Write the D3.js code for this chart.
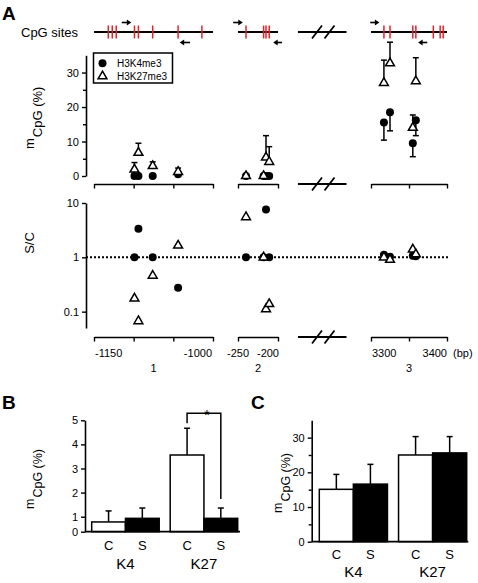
<!DOCTYPE html>
<html><head><meta charset="utf-8">
<script src="https://cdn.jsdelivr.net/npm/d3@7"></script>
<style>
body{margin:0;background:#fff;}
svg{display:block;}
</style></head><body>
<svg id="chart" width="478" height="583"></svg>
<script>
// ---------------- DATA ----------------
const regions = ["1", "2", "3"];
const regionDomains = [[-1150, -1000], [-250, -200], [3300, 3400]];
const regionTicks = [[-1150, -1100, -1050, -1000], [-250, -200], [3300, 3350, 3400]];
const regionTickLabels = [["-1150", "-1000"], ["-250", "-200"], ["3300", "3400"]];
const cpgSites = [[-1132, -1127, -1122, -1099, -1094, -1076, -1044, -1014], [-240, -218, -215, -211], [3317, 3325, 3355, 3359, 3382, 3391, 3395]];
const primerFwd = [[-1115, -1103], [-256, -244], [3299, 3311]];
const primerRev = [[-1029, -1042], [-195, -206], [3374, 3362]];
const siteBp = [[-1099, -1094, -1076, -1044], [-240, -218, -215, -211], [3317, 3325, 3355, 3359]];
const k4Mean = [[0, 0, 0, 0.5], [0, 0, 0, 0], [15.5, 18.5, 9.5, 16.2]];
const k4Err = [[0, 0, 0, 0], [0, 0, 0, 0], [5.1, 5.4, 3.9, 4.5]];
const k27Mean = [[1.9, 6.75, 2.9, 1.2], [0, 0, 5.4, 4.1], [27.0, 32.7, 14.0, 27.5]];
const k27Err = [[2.0, 2.75, 1.2, 1.1], [0, 0, 6.3, 4.4], [6.6, 6.1, 3.7, 6.8]];
const k4Ratio = [[1, 3.37, 1, 0.275], [1, 1, 7.6, 1], [1.11, 1.03, 1.07, 1.05]];
const k27Ratio = [[0.175, 0.067, 0.46, 1.65], [5.5, 1, 0.111, 0.138], [1.0, 0.9, 1.4, 1.14]];
const upperTicks = [0, 5, 10, 15, 20, 25, 30];
const ratioTicks = [0.1, 1, 10];
const seriesNames = ["H3K4me3", "H3K27me3"];

const marks = ["K4", "K27"];
const conditions = ["C", "S"];
const bMean = [[0.65, 0.89], [3.56, 0.89]];
const bErr = [[0.59, 0.47], [1.11, 0.47]];
const bTicks = [0, 1, 2, 3, 4, 5];
const cMean = [[15.1, 16.6], [25.0, 25.6]];
const cErr = [[4.3, 5.7], [5.3, 4.7]];
const cTicks = [0, 5, 10, 15, 20, 25, 30];

// ---------------- DRAW ----------------
const FONT = '"Liberation Sans", Arial, Helvetica, sans-serif';
const RED = "#e3232c";
const svg = d3.select("#chart").style("font-family", FONT);

function styleAxis(g, fs) {
  g.attr("font-family", FONT).attr("font-size", fs || 11);
  g.selectAll("path.domain").attr("stroke", "#000").attr("stroke-width", 1.6);
  g.selectAll(".tick line").attr("stroke", "#000").attr("stroke-width", 1.4);
  g.selectAll(".tick text").attr("fill", "#000");
}

// panel letters
svg.append("text").attr("x", 2).attr("y", 20).attr("font-size", 19).attr("font-weight", "bold").attr("fill", "#000").text("A");
svg.append("text").attr("x", 2).attr("y", 409).attr("font-size", 19).attr("font-weight", "bold").attr("fill", "#000").text("B");
svg.append("text").attr("x", 251).attr("y", 409).attr("font-size", 19).attr("font-weight", "bold").attr("fill", "#000").text("C");

// ---- Panel A scales ----
const segRanges = [[94, 213], [238, 278], [371, 447]];
const xs = regionDomains.map((d, i) => d3.scaleLinear().domain(d).range(segRanges[i]));
const yUp = d3.scaleLinear().domain([0, 35]).range([176, 55.3]);
const yLo = d3.scaleLog().domain([0.05, 10]).range([328, 203]);
const axisX = 86, geneY = 32, upAxisY = 184, loAxisY = 337;

// CpG sites label and gene lines
svg.append("text").attr("x", 21).attr("y", 36.5).attr("font-size", 13).attr("fill", "#000").text("CpG sites");

function arrow(x1, x2, y) {
  const dir = Math.sign(x2 - x1);
  svg.append("line").attr("x1", x1).attr("x2", x2 - dir * 3).attr("y1", y).attr("y2", y)
    .attr("stroke", "#000").attr("stroke-width", 1.6);
  svg.append("path").attr("d", `M${x2},${y} L${x2 - dir * 4.5},${y - 3} L${x2 - dir * 4.5},${y + 3} Z`).attr("fill", "#000");
}

regionDomains.forEach((dom, i) => {
  const x = xs[i];
  svg.append("line").attr("x1", x(dom[0])).attr("x2", x(dom[1])).attr("y1", geneY).attr("y2", geneY)
    .attr("stroke", "#000").attr("stroke-width", 1.8);
  svg.selectAll(null).data(cpgSites[i]).enter().append("line")
    .attr("x1", d => x(d)).attr("x2", d => x(d)).attr("y1", geneY - 6.5).attr("y2", geneY + 6.5)
    .attr("stroke", RED).attr("stroke-width", 1.5);
  arrow(x(primerFwd[i][0]), x(primerFwd[i][1]), geneY - 9.5);
  arrow(x(primerRev[i][0]), x(primerRev[i][1]), geneY + 10.5);
});

// break symbols
function breakMark(y) {
  svg.append("line").attr("x1", 298).attr("x2", 346.5).attr("y1", y).attr("y2", y).attr("stroke", "#000").attr("stroke-width", 1.8);
  [317, 329.5].forEach(cx => {
    svg.append("line").attr("x1", cx - 5).attr("x2", cx + 5).attr("y1", y + 6.5).attr("y2", y - 6.5)
      .attr("stroke", "#000").attr("stroke-width", 1.8);
  });
}
breakMark(geneY); breakMark(upAxisY); breakMark(loAxisY);

// upper y axis
const gUY = svg.append("g").attr("transform", `translate(${axisX},0)`)
  .call(d3.axisLeft(yUp).tickValues(upperTicks).tickSize(4).tickSizeOuter(0).tickPadding(3)
    .tickFormat(d => d % 10 === 0 ? d : ""));
styleAxis(gUY, 11);
gUY.selectAll(".tick").filter(d => d % 10 !== 0).select("line").attr("x2", -3);

// lower y axis (log)
const gLY = svg.append("g").attr("transform", `translate(${axisX},0)`)
  .call(d3.axisLeft(yLo).tickValues(ratioTicks).tickSize(4).tickSizeOuter(0).tickPadding(3)
    .tickFormat(d => d === 0.1 ? "0.1" : String(d)));
styleAxis(gLY, 11);

// x axes
const labelAnchors = [["start", "end"], ["middle", "end"], ["start", "end"]];
const labelDx = [[1, -1], [0, 1], [1, 0]];
regionDomains.forEach((dom, i) => {
  [upAxisY, loAxisY].forEach(yy => {
    const g = svg.append("g").attr("transform", `translate(0,${yy})`)
      .call(d3.axisBottom(xs[i]).tickValues(regionTicks[i]).tickSize(4.5).tickSizeOuter(0).tickFormat(""));
    styleAxis(g, 11);
  });
  regionTickLabels[i].forEach((lab, k) => {
    svg.append("text").attr("x", xs[i](dom[k]) + labelDx[i][k]).attr("y", 356.5)
      .attr("text-anchor", labelAnchors[i][k]).attr("font-size", 11).attr("fill", "#000").text(lab);
  });
  svg.append("text").attr("x", (xs[i](dom[0]) + xs[i](dom[1])) / 2).attr("y", 371.5)
    .attr("text-anchor", "middle").attr("font-size", 11).attr("fill", "#000").text(regions[i]);
});
svg.append("text").attr("x", 453).attr("y", 356.5).attr("font-size", 11).attr("fill", "#000").text("(bp)");

// y labels
function mcpgLabel(x, yStart, fs) {
  const t = svg.append("text").attr("transform", `translate(${x},${yStart}) rotate(-90)`).attr("font-size", fs).attr("fill", "#000");
  t.append("tspan").text("m");
  t.append("tspan").attr("dy", fs * 0.62).attr("dx", 1).text("CpG (%)");
}
mcpgLabel(34, 149, 13);
mcpgLabel(34, 509, 12.5);
mcpgLabel(282, 513, 12.5);
svg.append("text").attr("transform", "translate(34,243) rotate(-90)").attr("text-anchor", "middle")
  .attr("font-size", 13).attr("fill", "#000").text("S/C");

// dotted reference line
svg.append("line").attr("x1", axisX).attr("x2", 450).attr("y1", yLo(1)).attr("y2", yLo(1))
  .attr("stroke", "#000").attr("stroke-width", 2).attr("stroke-dasharray", "2,2");

// upper points
const tri = d3.symbol().type(d3.symbolTriangle).size(34);
const cap = 3;
function errBar(x, y0, y1) {
  svg.append("line").attr("x1", x).attr("x2", x).attr("y1", y0).attr("y2", y1).attr("stroke", "#000").attr("stroke-width", 1.5);
  svg.append("line").attr("x1", x - cap).attr("x2", x + cap).attr("y1", y1).attr("y2", y1).attr("stroke", "#000").attr("stroke-width", 1.5);
}
siteBp.forEach((sites, i) => {
  sites.forEach((bp, j) => {
    const x = xs[i](bp);
    if (k4Err[i][j] > 0) errBar(x, yUp(k4Mean[i][j]), yUp(k4Mean[i][j] - k4Err[i][j]));
    if (k27Err[i][j] > 0) errBar(x, yUp(k27Mean[i][j]), yUp(k27Mean[i][j] + k27Err[i][j]));
  });
});
siteBp.forEach((sites, i) => {
  sites.forEach((bp, j) => {
    const x = xs[i](bp);
    svg.append("circle").attr("cx", x).attr("cy", yUp(k4Mean[i][j])).attr("r", 4).attr("fill", "#000");
    svg.append("circle").attr("cx", x).attr("cy", yLo(k4Ratio[i][j])).attr("r", 4).attr("fill", "#000");
  });
});
siteBp.forEach((sites, i) => {
  sites.forEach((bp, j) => {
    const x = xs[i](bp);
    svg.append("path").attr("d", tri).attr("transform", `translate(${x},${yUp(k27Mean[i][j])})`)
      .attr("fill", "#fff").attr("stroke", "#000").attr("stroke-width", 1.5);
    svg.append("path").attr("d", tri).attr("transform", `translate(${x},${yLo(k27Ratio[i][j])})`)
      .attr("fill", "#fff").attr("stroke", "#000").attr("stroke-width", 1.5);
  });
});

// legend
svg.append("rect").attr("x", 93.5).attr("y", 53).attr("width", 79).attr("height", 30)
  .attr("fill", "#fff").attr("stroke", "#000").attr("stroke-width", 1.5);
svg.append("circle").attr("cx", 102.5).attr("cy", 63.3).attr("r", 4).attr("fill", "#000");
svg.append("path").attr("d", tri).attr("transform", "translate(102.5,76.3)")
  .attr("fill", "#fff").attr("stroke", "#000").attr("stroke-width", 1.5);
seriesNames.forEach((n, k) => {
  svg.append("text").attr("x", 117).attr("y", 67 + k * 13).attr("font-size", 10).attr("fill", "#000").text(n);
});

// ---- bar panels ----
function barPanel(opts) {
  const { axisXpos, y, xRange, baseY, xEnd, means, errs, ticks, tickFmt, labY, grpY } = opts;
  const xG = d3.scaleBand().domain(marks).range(xRange).paddingInner(0.14);
  const xS = d3.scaleBand().domain(conditions).range([0, xG.bandwidth()]);
  const gy = svg.append("g").attr("transform", `translate(${axisXpos},0)`)
    .call(d3.axisLeft(y).tickValues(ticks).tickSize(4).tickSizeOuter(0).tickPadding(3).tickFormat(tickFmt));
  styleAxis(gy, 11);
  gy.selectAll(".tick").filter(d => tickFmt(d) === "").select("line").attr("x2", -3);
  const centers = [];
  marks.forEach((m, i) => {
    centers.push([]);
    conditions.forEach((c, k) => {
      const x0 = xG(m) + xS(c), w = xS.bandwidth();
      const cx = x0 + w / 2;
      centers[i].push(cx);
      errBar(cx, y(means[i][k]), y(means[i][k] + errs[i][k]));
      svg.append("rect").attr("x", x0).attr("y", y(means[i][k])).attr("width", w)
        .attr("height", baseY - y(means[i][k]))
        .attr("fill", k === 0 ? "#fff" : "#000").attr("stroke", "#000").attr("stroke-width", 1.5);
      svg.append("text").attr("x", cx).attr("y", labY).attr("text-anchor", "middle").attr("font-size", 13).attr("fill", "#000").text(c);
    });
    svg.append("text").attr("x", xG(m) + xG.bandwidth() / 2).attr("y", grpY).attr("text-anchor", "middle")
      .attr("font-size", 15).attr("fill", "#000").text(m);
  });
  svg.append("line").attr("x1", axisXpos).attr("x2", xEnd).attr("y1", baseY).attr("y2", baseY)
    .attr("stroke", "#000").attr("stroke-width", 1.8);
  return centers;
}

const yB = d3.scaleLinear().domain([0, 1, 5]).range([531.7, 516.7, 420.3]);
const centersB = barPanel({
  axisXpos: 85, y: yB, xRange: [91.7, 237.7], baseY: 531.7, xEnd: 240,
  means: bMean, errs: bErr, ticks: bTicks, tickFmt: d => String(d), labY: 550, grpY: 569
});
const yC = d3.scaleLinear().domain([0, 35]).range([541.7, 420.3]);
barPanel({
  axisXpos: 311.7, y: yC, xRange: [319.3, 466.7], baseY: 541.7, xEnd: 468.3,
  means: cMean, errs: cErr, ticks: cTicks, tickFmt: d => d % 10 === 0 ? String(d) : "", labY: 559, grpY: 577
});

// significance bracket in B (K27: C vs S)
const bx1 = centersB[1][0], bx2 = centersB[1][1];
const brTop = 413.3;
svg.append("path")
  .attr("d", `M${bx1},${yB(bMean[1][0] + bErr[1][0]) - 5} V${brTop} H${bx2} V${yB(bMean[1][1] + bErr[1][1]) - 9}`)
  .attr("fill", "none").attr("stroke", "#000").attr("stroke-width", 1.5);
svg.append("text").attr("x", (bx1 + bx2) / 2 + 3).attr("y", 420).attr("text-anchor", "middle")
  .attr("font-size", 15).attr("fill", "#000").text("*");
</script>
</body></html>
